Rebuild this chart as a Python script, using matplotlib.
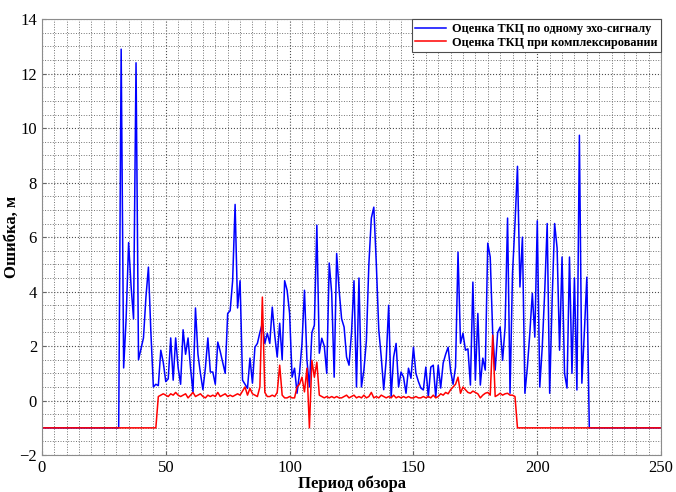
import matplotlib
matplotlib.use("Agg")
import matplotlib.pyplot as plt
from matplotlib.ticker import MultipleLocator

plt.rcParams['font.family'] = ['Liberation Serif', 'DejaVu Serif']

# single echo estimate (blue)
blue_x = [0, 31, 32, 33, 34, 35, 36, 37, 38, 39, 40, 41, 42, 43, 44, 45, 46, 47, 48, 49,
          50, 51, 52, 53, 54, 55, 56, 57, 58, 59, 60, 61, 62, 63, 64, 65, 66, 67, 68, 69,
          70, 71, 72, 73, 74, 75, 76, 77, 78, 79, 80, 81, 82, 83, 84, 85, 86, 87, 88, 89,
          90, 91, 92, 93, 94, 95, 96, 97, 98, 99, 100, 101, 102, 103, 104, 105, 106, 107, 108, 109,
          110, 111, 112, 113, 114, 115, 116, 117, 118, 119, 120, 121, 122, 123, 124, 125, 126, 127, 128, 129,
          130, 131, 132, 133, 134, 135, 136, 137, 138, 139, 140, 141, 142, 143, 144, 145, 146, 147, 148, 149,
          150, 151, 152, 153, 154, 155, 156, 157, 158, 159, 160, 161, 162, 163, 164, 165, 166, 167, 168, 169,
          170, 171, 172, 173, 174, 175, 176, 177, 178, 179, 180, 181, 182, 183, 184, 185, 186, 187, 188, 189,
          190, 191, 192, 193, 194, 195, 196, 197, 198, 199, 200, 201, 202, 203, 204, 205, 206, 207, 208, 209,
          210, 211, 212, 213, 214, 215, 216, 217, 218, 219, 220, 221, 250]
blue_y = [-1, -1, 12.9, 1.2, 3.0, 5.8, 4.2, 3.0, 12.4, 1.5, 1.9, 2.3, 3.8, 4.9, 2.5, 0.5, 0.6, 0.55, 1.85, 1.4,
          0.7, 0.8, 2.3, 0.75, 2.3, 1.2, 0.6, 2.6, 1.7, 2.3, 1.2, 0.3, 3.4, 1.7, 1.0, 0.4, 1.2, 2.3, 1.05, 1.05,
          0.6, 2.15, 1.8, 1.4, 1.0, 3.2, 3.3, 4.4, 7.2, 3.4, 4.4, 0.75, 0.6, 0.45, 1.56, 0.64, 1.96, 2.1, 2.5, 2.84,
          2.1, 2.47, 2.1, 3.43, 2.4, 1.6, 2.84, 1.5, 4.4, 4.05, 3.2, 0.86, 1.19, 0.27, 1.0, 2.1, 4.05, 1.49, 0.5, 2.5,
          2.77, 6.44, 1.74, 2.29, 2.0, 1.0, 5.05, 3.94, 0.86, 5.4, 4.05, 3.0, 2.7, 1.6, 1.3, 2.5, 4.4, 0.5, 4.5, 0.5,
          1.12, 2.2, 5.0, 6.7, 7.1, 5.05, 2.6, 1.6, 0.4, 1.5, 3.5, 0.13, 1.6, 2.1, 0.5, 1.05, 0.86, 0.27, 1.19, 0.82,
          1.96, 1.0, 0.7, 0.46, 0.39, 1.23, 0.13, 1.23, 1.3, 0.13, 1.3, 0.46, 1.38, 1.7, 1.96, 1.1, 0.6, 1.23, 5.45, 2.1,
          2.47, 1.85, 1.9, 0.57, 4.35, 0.75, 3.2, 0.57, 1.56, 1.12, 5.78, 5.27, 2.47, 1.12, 2.5, 2.7, 1.48, 2.7, 6.7, 0.27,
          4.68, 6.5, 8.6, 4.17, 6.0, 0.27, 1.23, 2.5, 3.94, 2.33, 6.6, 0.5, 1.96, 4.0, 6.5, 0.27, 3.7, 6.5, 5.6, 1.85,
          5.27, 1.0, 0.46, 5.27, 1.0, 4.5, 0.39, 9.74, 0.64, 2.5, 4.53, -1, -1]

# combined estimate (red)
red_x = [0, 46, 47, 48, 49, 50, 51, 52, 53, 54, 55, 56, 57, 58, 59, 60, 61, 62, 63, 64,
         65, 66, 67, 68, 69, 70, 71, 72, 73, 74, 75, 76, 77, 78, 79, 80, 81, 82, 83, 84,
         85, 86, 87, 88, 89, 90, 91, 92, 93, 94, 95, 96, 97, 98, 99, 100, 101, 102, 103, 104,
         105, 106, 107, 108, 109, 110, 111, 112, 113, 114, 115, 116, 117, 118, 119, 120, 121, 122, 123, 124,
         125, 126, 127, 128, 129, 130, 131, 132, 133, 134, 135, 136, 137, 138, 139, 140, 141, 142, 143, 144,
         145, 146, 147, 148, 149, 150, 151, 152, 153, 154, 155, 156, 157, 158, 159, 160, 161, 162, 163, 164,
         165, 166, 167, 168, 169, 170, 171, 172, 173, 174, 175, 176, 177, 178, 179, 180, 181, 182, 183, 184,
         185, 186, 187, 188, 189, 190, 191, 192, 250]
red_y = [-1, -1, 0.15, 0.2, 0.25, 0.2, 0.15, 0.25, 0.2, 0.3, 0.2, 0.15, 0.2, 0.25, 0.1, 0.2, 0.3, 0.15, 0.2, 0.25,
         0.15, 0.1, 0.2, 0.15, 0.2, 0.15, 0.3, 0.15, 0.2, 0.25, 0.15, 0.2, 0.15, 0.2, 0.25, 0.2, 0.35, 0.5, 0.2, 0.45,
         0.25, 0.2, 0.15, 0.5, 3.8, 0.3, 0.15, 0.15, 0.2, 0.15, 0.3, 1.3, 0.2, 0.1, 0.1, 0.15, 0.1, 0.1, 0.5, 0.6,
         0.86, 0.32, 1.19, -1.0, 1.48, 0.86, 1.41, 0.2, 0.15, 0.1, 0.15, 0.1, 0.15, 0.1, 0.15, 0.1, 0.1, 0.15, 0.2, 0.1,
         0.15, 0.2, 0.1, 0.15, 0.1, 0.2, 0.1, 0.15, 0.3, 0.1, 0.15, 0.1, 0.2, 0.15, 0.1, 0.15, 0.1, 0.2, 0.1, 0.15,
         0.1, 0.15, 0.1, 0.15, 0.1, 0.1, 0.15, 0.1, 0.1, 0.15, 0.1, 0.15, 0.1, 0.2, 0.1, 0.15, 0.25, 0.2, 0.3, 0.25,
         0.4, 0.5, 0.6, 0.86, 0.27, 0.5, 0.4, 0.3, 0.27, 0.35, 0.3, 0.25, 0.1, 0.2, 0.27, 0.3, 0.2, 2.4, 0.15, 0.2,
         0.27, 0.2, 0.25, 0.27, 0.2, 0.2, 0.15, -1, -1]

x_ticks = [0, 50, 100, 150, 200, 250]
y_ticks = [-2, 0, 2, 4, 6, 8, 10, 12, 14]

fig = plt.figure(figsize=(6.76, 4.92), dpi=100)
ax = fig.add_axes([0.062, 0.075, 0.916, 0.886])

ax.plot(blue_x, blue_y, color='#0000ff', lw=1.1, label='Оценка ТКЦ по одному эхо-сигналу')
ax.plot(red_x, red_y, color='#ff0000', lw=1.1, label='Оценка ТКЦ при комплексировании')

ax.set_xlim(0, 250)
ax.set_ylim(-2, 14)
ax.set_xticks(x_ticks)
ax.set_yticks(y_ticks)
ax.xaxis.set_minor_locator(MultipleLocator(5))
ax.yaxis.set_minor_locator(MultipleLocator(0.5))
ax.grid(which='major', color='0.3', linestyle=':', lw=0.8)
ax.grid(which='minor', color='0.45', linestyle=':', lw=0.7)
ax.tick_params(which='both', direction='in', labelsize=12, length=3, color='0.4')
ax.tick_params(which='minor', length=0)
for s in ax.spines.values():
    s.set_color('0.55')

ax.set_xlabel('Период обзора', fontsize=12, fontweight='bold')
ax.xaxis.set_label_coords(0.5, -0.046)
ax.set_ylabel('Ошибка, м', fontsize=12, fontweight='bold', labelpad=0)

leg = ax.legend(loc='upper right', borderaxespad=0, fancybox=False, framealpha=1,
                edgecolor='0.3', prop={'weight': 'bold', 'size': 8.8},
                handlelength=2.5, borderpad=0.3, labelspacing=0.15, handletextpad=0.5)
leg.get_frame().set_linewidth(0.8)

fig.savefig('out.png', dpi=100)
